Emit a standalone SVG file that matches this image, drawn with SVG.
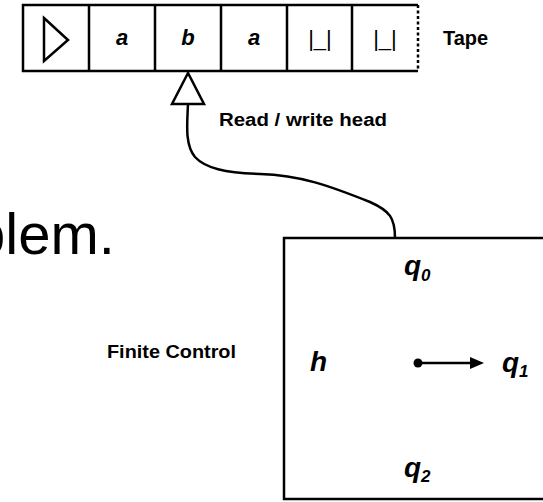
<svg xmlns="http://www.w3.org/2000/svg" width="543" height="502" viewBox="0 0 543 502">
<style>
.ln{fill:none;stroke:#000;stroke-width:2.5}
.sym{font-family:"Liberation Sans",Arial,sans-serif;font-weight:bold;font-style:italic;font-size:22px;fill:#000;text-anchor:middle}
.blank{font-family:"Liberation Sans",Arial,sans-serif;font-size:22px;fill:#000;text-anchor:middle}
.lbl{font-family:"Liberation Sans",Arial,sans-serif;font-weight:bold;fill:#000}
.st{font-family:"Liberation Sans",Arial,sans-serif;font-weight:bold;font-style:italic;font-size:28px;fill:#000}
.sub{font-size:17px}
</style>
<rect width="543" height="502" fill="#fff"/>
<g id="background-text">
<text x="-27" y="254" font-family="'Liberation Sans',Arial,sans-serif" font-size="58" fill="#000">plem.</text>
</g>
<g id="tape">
<path class="ln" d="M418,5 H23 V71 H418"/>
<path class="ln" d="M89,5 V71 M155,5 V71 M221,5 V71 M287,5 V71 M352,5 V71"/>
<path class="ln" d="M418,5 V71" stroke-dasharray="3,2.5"/>
<polygon class="ln" points="44,18 68,40 44,61"/>
<text class="sym" x="122" y="45">a</text>
<text class="sym" x="188" y="45">b</text>
<text class="sym" x="254" y="45">a</text>
<text class="blank" x="320" y="46">|_|</text>
<text class="blank" x="385" y="46">|_|</text>
<text class="lbl" x="443" y="45" font-size="20">Tape</text>
</g>
<g id="head">
<polygon class="ln" points="188,73 172,104 204,104" fill="#fff"/>
<text class="lbl" x="219" y="126" font-size="18" textLength="168" lengthAdjust="spacingAndGlyphs">Read / write head</text>
</g>
<g id="connectors">
<path class="ln" d="M188,104 C187,125 185,145 195,157 C205,168 225,173 260,174 C300,175 330,186 370,202 C390,211 395,218 395,238"/>
</g>
<g id="finite-control">
<rect class="ln" x="284" y="238" width="280" height="261"/>
<text class="lbl" x="107" y="358" font-size="18.5" textLength="129" lengthAdjust="spacingAndGlyphs">Finite Control</text>
<text class="st" x="404" y="275">q<tspan class="sub" dy="6">0</tspan></text>
<text class="st" x="310" y="371">h</text>
<text class="st" x="502" y="372">q<tspan class="sub" dy="5">1</tspan></text>
<text class="st" x="404" y="477">q<tspan class="sub" dy="5">2</tspan></text>
<circle cx="418" cy="363" r="4.5" fill="#000"/>
<path class="ln" d="M418,363 H472"/>
<polygon points="470,357 484,363 470,369" fill="#000"/>
</g>
</svg>
